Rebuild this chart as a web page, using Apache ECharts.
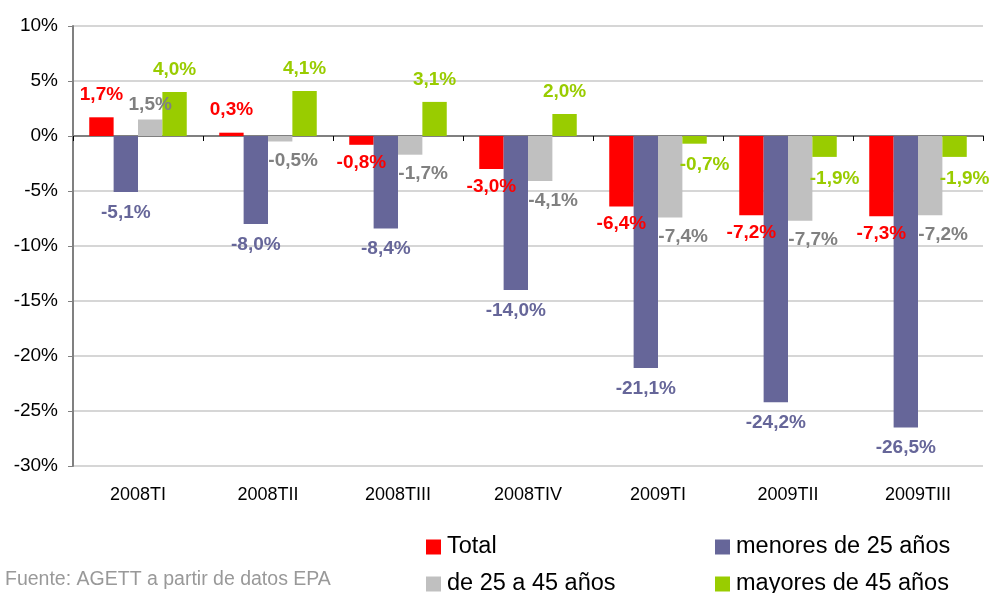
<!DOCTYPE html>
<html>
<head>
<meta charset="utf-8">
<script src="https://cdn.jsdelivr.net/npm/echarts@6/dist/echarts.min.js"></script>
<style>
  html, body { margin: 0; padding: 0; background: #fff; }
  #main { width: 991px; height: 593px; }
</style>
</head>
<body>
<div id="main"></div>
<script>
// datos
var categories = ['2008TI', '2008TII', '2008TIII', '2008TIV', '2009TI', '2009TII', '2009TIII'];
var total = [1.7, 0.3, -0.8, -3.0, -6.4, -7.2, -7.3];
var menores25 = [-5.1, -8.0, -8.4, -14.0, -21.1, -24.2, -26.5];
var de25a45 = [1.5, -0.5, -1.7, -4.1, -7.4, -7.7, -7.2];
var mayores45 = [4.0, 4.1, 3.1, 2.0, -0.7, -1.9, -1.9];
var seriesNames = ['Total', 'menores de 25 años', 'de 25 a 45 años', 'mayores de 45 años'];

var barColors = ['#FF0000', '#666699', '#C0C0C0', '#99CC00'];
var labelColors = ['#FF0000', '#666699', '#808080', '#99CC00'];
// desplazamiento de etiquetas: [distancia arriba, distancia abajo, dx negativos]
var labelPos = [[13, 8, 0], [13, 11, 0], [5, 10, 13], [13, 12, 10]];
// posición de cada entrada de la leyenda [left, top]
var legendPos = [[426, 535], [715, 535], [426, 572], [715, 572]];

function fmt(p) {
  return p.value.toFixed(1).replace('.', ',') + '%';
}

function buildSeries(name, values, i) {
  return {
    name: name,
    type: 'bar',
    xAxisIndex: 0,
    barGap: 0,
    barCategoryGap: '25%',
    itemStyle: { color: barColors[i] },
    data: values.map(function (v) {
      return {
        value: v,
        label: {
          position: v >= 0 ? 'top' : 'bottom',
          distance: v >= 0 ? labelPos[i][0] : labelPos[i][1],
          offset: [v >= 0 ? 0 : labelPos[i][2], 0]
        }
      };
    }),
    label: {
      show: true,
      formatter: fmt,
      color: labelColors[i],
      fontFamily: 'Liberation Sans, Arial',
      fontWeight: 'bold',
      fontSize: 19
    }
  };
}

var myChart = echarts.init(document.getElementById('main'));
var option = {
  animation: false,
  textStyle: { fontFamily: 'Liberation Sans, Arial' },
  grid: { left: 73, right: 8, top: 26, bottom: 127, containLabel: false },
  legend: seriesNames.map(function (n, i) {
    return {
      left: legendPos[i][0],
      top: legendPos[i][1],
      padding: 0,
      itemWidth: 15,
      itemHeight: 15,
      itemGap: 0,
      icon: 'rect',
      data: [n],
      textStyle: { fontSize: 23.5, color: '#000', padding: [0, 0, 0, 1] }
    };
  }),
  graphic: [{
    type: 'text',
    left: 5,
    top: 570,
    style: {
      text: 'Fuente: AGETT a partir de datos EPA',
      fill: '#999999',
      fontSize: 19.5,
      fontFamily: 'Liberation Sans, Arial'
    }
  }],
  xAxis: [{
    type: 'category',
    data: categories,
    axisLine: { onZero: true, lineStyle: { color: '#808080', width: 2 } },
    axisTick: { show: true, length: 5, lineStyle: { color: '#000' } },
    axisLabel: { show: false }
  }, {
    type: 'category',
    data: categories,
    position: 'bottom',
    axisLine: { show: false, onZero: false },
    axisTick: { show: false },
    axisLabel: { color: '#000', fontSize: 18, margin: 20 }
  }],
  yAxis: {
    type: 'value',
    min: -30,
    max: 10,
    interval: 5,
    axisLine: { show: true, lineStyle: { color: '#808080', width: 2 } },
    axisTick: { show: true, length: 5, lineStyle: { color: '#808080' } },
    axisLabel: { formatter: '{value}%', color: '#000', fontSize: 19, margin: 15 },
    splitLine: { lineStyle: { color: '#C8C8C8', width: 1.5 } }
  },
  series: [
    buildSeries(seriesNames[0], total, 0),
    buildSeries(seriesNames[1], menores25, 1),
    buildSeries(seriesNames[2], de25a45, 2),
    buildSeries(seriesNames[3], mayores45, 3)
  ]
};
myChart.setOption(option);
</script>
</body>
</html>
